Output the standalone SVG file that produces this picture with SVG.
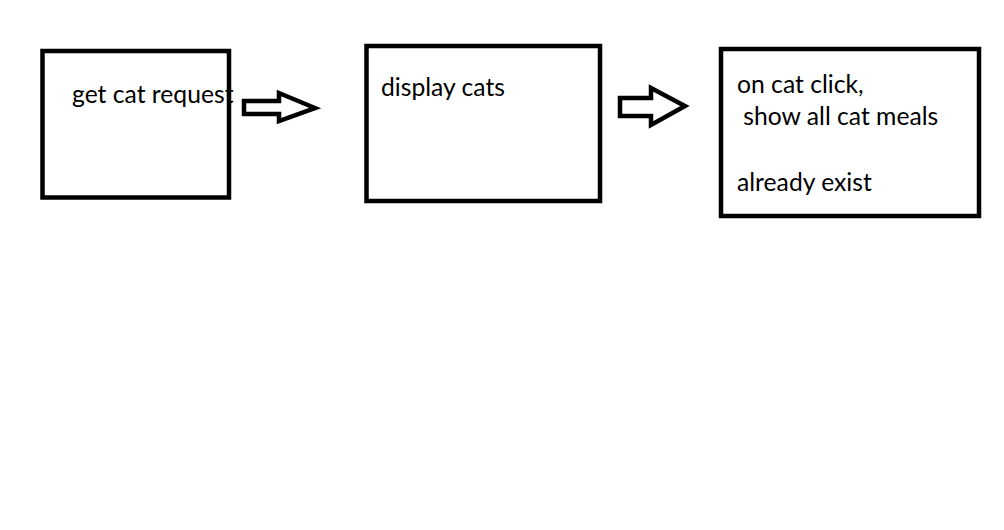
<svg xmlns="http://www.w3.org/2000/svg" width="1004" height="530" viewBox="0 0 1004 530">
<style>
.box{fill:#fff;stroke:#000;stroke-width:4.5}
.arr{fill:#fff;stroke:#000;stroke-width:4.5;stroke-linejoin:miter}
.t{font-family:Lato,"Open Sans",sans-serif;font-size:24.7px;fill:#000}
</style>
<rect width="1004" height="530" fill="#fff"/>
<g id="node1">
<rect class="box" x="42.5" y="51" width="186.5" height="146.5"/>
</g>
<g id="node2">
<rect class="box" x="366.5" y="46" width="233.5" height="155"/>
<text class="t" x="381" y="96">display cats</text>
</g>
<g id="node3">
<rect class="box" x="721" y="49" width="258" height="167"/>
<text class="t" x="737" y="92.5">on cat click,</text>
<text class="t" x="737" y="125" xml:space="preserve"> show all cat meals</text>
<text class="t" x="737" y="191">already exist</text>
</g>
<g id="connectors">
<polygon class="arr" points="244,101 279,101 279,93 315,108 279,121 279,114 244,114"/>
<polygon class="arr" points="620,98 651,98 651,88 685,106 651,125 651,116 620,116"/>
</g>
<text class="t" x="72" y="102.5">get cat request</text>
</svg>
